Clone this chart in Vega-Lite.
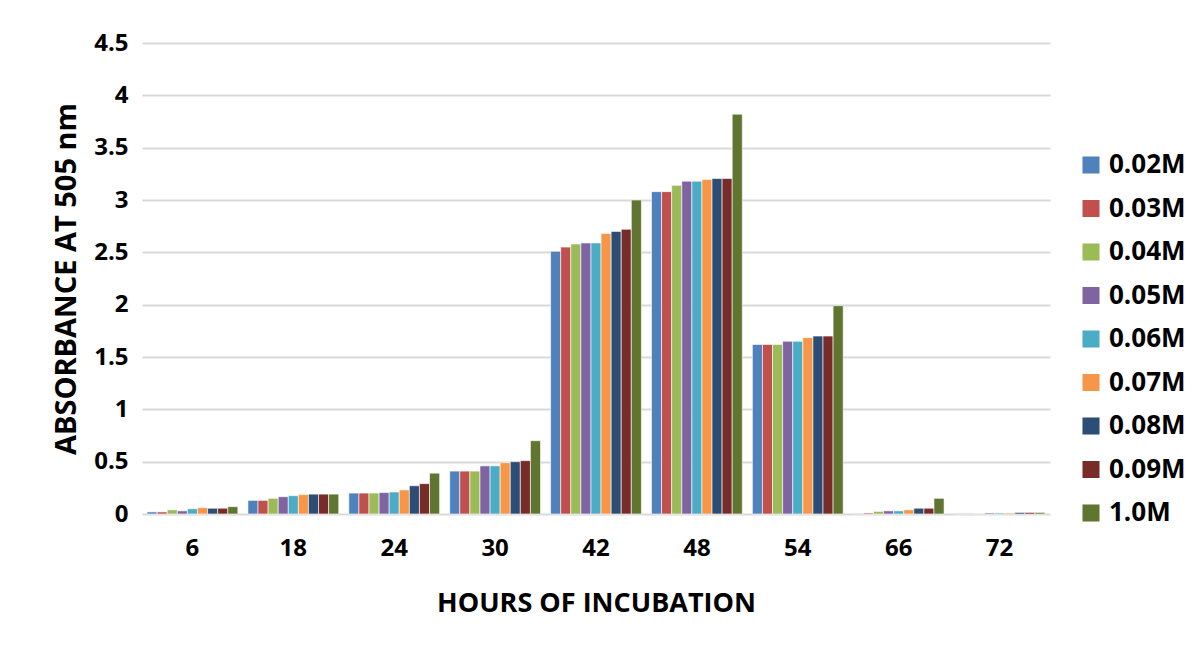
{
  "$schema": "https://vega.github.io/schema/vega-lite/v6.json",
  "autosize": {"type": "none"},
  "width": 908,
  "height": 471,
  "padding": {"left": 142, "top": 43, "right": 151, "bottom": 132},
  "background": "white",
  "data": {"values": [
    {"Hours": "6", "Conc": "0.02M", "Abs": 0.02},
    {"Hours": "6", "Conc": "0.03M", "Abs": 0.02},
    {"Hours": "6", "Conc": "0.04M", "Abs": 0.04},
    {"Hours": "6", "Conc": "0.05M", "Abs": 0.03},
    {"Hours": "6", "Conc": "0.06M", "Abs": 0.05},
    {"Hours": "6", "Conc": "0.07M", "Abs": 0.06},
    {"Hours": "6", "Conc": "0.08M", "Abs": 0.055},
    {"Hours": "6", "Conc": "0.09M", "Abs": 0.055},
    {"Hours": "6", "Conc": "1.0M", "Abs": 0.07},
    {"Hours": "18", "Conc": "0.02M", "Abs": 0.13},
    {"Hours": "18", "Conc": "0.03M", "Abs": 0.13},
    {"Hours": "18", "Conc": "0.04M", "Abs": 0.15},
    {"Hours": "18", "Conc": "0.05M", "Abs": 0.165},
    {"Hours": "18", "Conc": "0.06M", "Abs": 0.175},
    {"Hours": "18", "Conc": "0.07M", "Abs": 0.185},
    {"Hours": "18", "Conc": "0.08M", "Abs": 0.19},
    {"Hours": "18", "Conc": "0.09M", "Abs": 0.19},
    {"Hours": "18", "Conc": "1.0M", "Abs": 0.19},
    {"Hours": "24", "Conc": "0.02M", "Abs": 0.2},
    {"Hours": "24", "Conc": "0.03M", "Abs": 0.2},
    {"Hours": "24", "Conc": "0.04M", "Abs": 0.2},
    {"Hours": "24", "Conc": "0.05M", "Abs": 0.205},
    {"Hours": "24", "Conc": "0.06M", "Abs": 0.21},
    {"Hours": "24", "Conc": "0.07M", "Abs": 0.23},
    {"Hours": "24", "Conc": "0.08M", "Abs": 0.27},
    {"Hours": "24", "Conc": "0.09M", "Abs": 0.29},
    {"Hours": "24", "Conc": "1.0M", "Abs": 0.39},
    {"Hours": "30", "Conc": "0.02M", "Abs": 0.41},
    {"Hours": "30", "Conc": "0.03M", "Abs": 0.41},
    {"Hours": "30", "Conc": "0.04M", "Abs": 0.41},
    {"Hours": "30", "Conc": "0.05M", "Abs": 0.46},
    {"Hours": "30", "Conc": "0.06M", "Abs": 0.46},
    {"Hours": "30", "Conc": "0.07M", "Abs": 0.49},
    {"Hours": "30", "Conc": "0.08M", "Abs": 0.5},
    {"Hours": "30", "Conc": "0.09M", "Abs": 0.51},
    {"Hours": "30", "Conc": "1.0M", "Abs": 0.7},
    {"Hours": "42", "Conc": "0.02M", "Abs": 2.51},
    {"Hours": "42", "Conc": "0.03M", "Abs": 2.55},
    {"Hours": "42", "Conc": "0.04M", "Abs": 2.58},
    {"Hours": "42", "Conc": "0.05M", "Abs": 2.59},
    {"Hours": "42", "Conc": "0.06M", "Abs": 2.59},
    {"Hours": "42", "Conc": "0.07M", "Abs": 2.68},
    {"Hours": "42", "Conc": "0.08M", "Abs": 2.7},
    {"Hours": "42", "Conc": "0.09M", "Abs": 2.72},
    {"Hours": "42", "Conc": "1.0M", "Abs": 3.0},
    {"Hours": "48", "Conc": "0.02M", "Abs": 3.08},
    {"Hours": "48", "Conc": "0.03M", "Abs": 3.08},
    {"Hours": "48", "Conc": "0.04M", "Abs": 3.14},
    {"Hours": "48", "Conc": "0.05M", "Abs": 3.18},
    {"Hours": "48", "Conc": "0.06M", "Abs": 3.18},
    {"Hours": "48", "Conc": "0.07M", "Abs": 3.195},
    {"Hours": "48", "Conc": "0.08M", "Abs": 3.205},
    {"Hours": "48", "Conc": "0.09M", "Abs": 3.205},
    {"Hours": "48", "Conc": "1.0M", "Abs": 3.82},
    {"Hours": "54", "Conc": "0.02M", "Abs": 1.62},
    {"Hours": "54", "Conc": "0.03M", "Abs": 1.62},
    {"Hours": "54", "Conc": "0.04M", "Abs": 1.62},
    {"Hours": "54", "Conc": "0.05M", "Abs": 1.65},
    {"Hours": "54", "Conc": "0.06M", "Abs": 1.65},
    {"Hours": "54", "Conc": "0.07M", "Abs": 1.685},
    {"Hours": "54", "Conc": "0.08M", "Abs": 1.7},
    {"Hours": "54", "Conc": "0.09M", "Abs": 1.7},
    {"Hours": "54", "Conc": "1.0M", "Abs": 1.99},
    {"Hours": "66", "Conc": "0.02M", "Abs": 0.005},
    {"Hours": "66", "Conc": "0.03M", "Abs": 0.01},
    {"Hours": "66", "Conc": "0.04M", "Abs": 0.025},
    {"Hours": "66", "Conc": "0.05M", "Abs": 0.03},
    {"Hours": "66", "Conc": "0.06M", "Abs": 0.03},
    {"Hours": "66", "Conc": "0.07M", "Abs": 0.04},
    {"Hours": "66", "Conc": "0.08M", "Abs": 0.055},
    {"Hours": "66", "Conc": "0.09M", "Abs": 0.055},
    {"Hours": "66", "Conc": "1.0M", "Abs": 0.15},
    {"Hours": "72", "Conc": "0.02M", "Abs": 0.005},
    {"Hours": "72", "Conc": "0.03M", "Abs": 0.005},
    {"Hours": "72", "Conc": "0.04M", "Abs": 0.005},
    {"Hours": "72", "Conc": "0.05M", "Abs": 0.01},
    {"Hours": "72", "Conc": "0.06M", "Abs": 0.01},
    {"Hours": "72", "Conc": "0.07M", "Abs": 0.01},
    {"Hours": "72", "Conc": "0.08M", "Abs": 0.015},
    {"Hours": "72", "Conc": "0.09M", "Abs": 0.015},
    {"Hours": "72", "Conc": "1.0M", "Abs": 0.015}
  ]},
  "mark": {"type": "bar", "stroke": "white", "strokeWidth": 0.6},
  "encoding": {
    "x": {
      "field": "Hours", "type": "nominal",
      "sort": ["6", "18", "24", "30", "42", "48", "54", "66", "72"],
      "scale": {"paddingInner": 0.1, "paddingOuter": 0.05},
      "axis": {
        "title": "HOURS OF INCUBATION", "labelAngle": 0, "domain": false, "ticks": false,
        "labelFont": "Open Sans", "labelFontWeight": "bold", "labelFontSize": 24, "labelColor": "#000000",
        "labelPadding": 22, "titleFont": "Open Sans", "titleFontWeight": "bold", "titleFontSize": 27,
        "titleColor": "#000000", "titlePadding": 30
      }
    },
    "xOffset": {
      "field": "Conc", "type": "nominal",
      "sort": ["0.02M", "0.03M", "0.04M", "0.05M", "0.06M", "0.07M", "0.08M", "0.09M", "1.0M"]
    },
    "y": {
      "field": "Abs", "type": "quantitative",
      "scale": {"domain": [0, 4.5], "nice": false},
      "axis": {
        "title": "ABSORBANCE AT 505 nm", "values": [0, 0.5, 1, 1.5, 2, 2.5, 3, 3.5, 4, 4.5],
        "format": ".1~f",
        "domain": false, "ticks": false, "gridColor": "#d9d9d9", "gridWidth": 2,
        "labelFont": "Open Sans", "labelFontWeight": "bold", "labelFontSize": 24, "labelColor": "#000000",
        "labelPadding": 14, "titleFont": "Open Sans", "titleFontWeight": "bold", "titleFontSize": 29,
        "titleColor": "#000000", "titlePadding": 12
      }
    },
    "color": {
      "field": "Conc", "type": "nominal",
      "sort": ["0.02M", "0.03M", "0.04M", "0.05M", "0.06M", "0.07M", "0.08M", "0.09M", "1.0M"],
      "scale": {"range": ["#4F81BD", "#C0504D", "#9BBB59", "#8064A2", "#4BACC6", "#F79646", "#2C4D75", "#772C2A", "#5F7530"]},
      "legend": {
        "title": null, "orient": "none", "legendX": 936, "legendY": 109,
        "symbolType": "square", "symbolSize": 290, "symbolStrokeWidth": 0,
        "labelFont": "Open Sans", "labelFontSize": 26, "labelFontWeight": "bold", "labelColor": "#000000",
        "rowPadding": 17.5, "labelOffset": 5, "labelLimit": 200
      }
    }
  },
  "config": {"view": {"stroke": null}}
}
